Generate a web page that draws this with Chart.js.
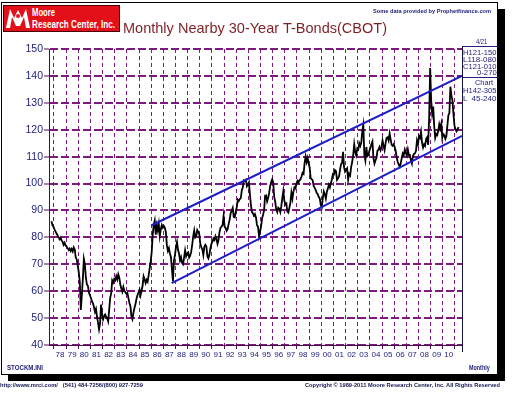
<!DOCTYPE html>
<html>
<head>
<meta charset="utf-8">
<script src="https://cdn.jsdelivr.net/npm/chart.js@4.4.1/dist/chart.umd.min.js"></script>
<style>
html, body { margin: 0; padding: 0; background: #fff; }
#wrap { position: relative; width: 520px; height: 394px; overflow: hidden; font-family: "Liberation Sans", Arial, sans-serif; }
#wrap canvas { position: absolute; left: 0; top: 0; }
.t { position: absolute; white-space: pre; line-height: 1; transform-origin: 0 0; }
.box { position: absolute; box-sizing: border-box; }
</style>
</head>
<body>
<div id="wrap">
  <canvas id="c" width="520" height="394"></canvas>
  <div class="box" style="left:1px;top:2px;width:497px;height:373px;border:1px solid #000;"></div>
  <div class="box" style="left:498px;top:9px;width:7px;height:372px;background:#000;"></div>
  <div class="box" style="left:8px;top:375px;width:497px;height:6px;background:#000;"></div>
  <div class="box" style="left:3px;top:5px;width:117px;height:27px;background:#e3101a;border:1px solid #4a0000;"></div>
  <svg style="position:absolute;left:5px;top:7px" width="26" height="23">
    <polygon fill="#fff" points="1,21 5,2 9,11 13,3 17,11 21,2 25,21 21,21 19,10 15,19 11,19 7,10 5,21"/>
    <circle cx="13" cy="9" r="2" fill="#e3101a"/>
  </svg>
  <div class="box" style="left:462px;top:46px;width:36px;height:1px;background:#22227a;"></div>
  <div class="box" style="left:462px;top:77px;width:36px;height:1px;background:#22227a;"></div>
  <div class="box" style="left:462px;top:46px;width:1px;height:306px;background:#14143c;"></div>
</div>
<script>
// Monthly Nearby 30-Year T-Bonds (CBOT), Oct 1977 - Apr 2011
const firstYear = 1977;
const firstMonth = 10;
const bondCloses = [
  86.0, 84.5, 84.0,                                                      // 1977
  83.0, 82.2, 81.4, 80.8, 80.0, 79.3, 79.9, 78.8, 78.4, 77.2, 78.0, 77.0, // 1978
  76.6, 76.0, 75.3, 75.8, 74.9, 75.7, 74.8, 76.3, 75.5, 72.5, 71.8, 69.5, // 1979
  67.0, 63.5, 53.0, 58.5, 64.5, 72.0, 70.0, 65.0, 62.5, 62.0, 59.5, 58.5, // 1980
  57.5, 56.2, 55.5, 54.0, 52.3, 53.4, 50.5, 48.3, 45.8, 48.0, 55.0, 51.5, // 1981
  49.5, 50.6, 51.3, 50.5, 50.0, 48.8, 53.0, 57.5, 59.2, 64.0, 63.2, 64.5, // 1982
  64.0, 65.6, 64.4, 66.3, 65.0, 62.5, 61.0, 59.8, 61.6, 60.2, 59.6, 59.0, // 1983
  59.4, 57.5, 55.6, 54.4, 50.6, 49.6, 52.0, 53.8, 55.2, 57.2, 58.6, 59.6, // 1984
  60.6, 58.5, 60.2, 62.0, 65.5, 64.4, 63.0, 64.2, 63.5, 66.0, 68.5, 71.0, // 1985
  74.5, 81.0, 84.5, 86.2, 81.0, 84.5, 82.6, 85.0, 80.5, 83.0, 84.6, 83.6, // 1986
  84.2, 83.5, 82.0, 77.0, 75.0, 76.0, 74.0, 72.6, 68.2, 63.6, 71.5, 73.4, // 1987
  76.5, 78.3, 75.4, 74.0, 71.4, 72.6, 70.5, 70.0, 72.6, 75.2, 73.0, 74.0, // 1988
  74.4, 72.5, 73.2, 74.6, 77.2, 80.5, 82.6, 80.0, 80.5, 82.7, 82.0, 81.2, // 1989
  77.6, 76.4, 75.6, 73.4, 76.5, 77.2, 76.6, 73.0, 72.2, 73.6, 76.0, 77.6, // 1990
  78.4, 79.6, 79.0, 80.4, 79.4, 77.6, 79.0, 82.0, 83.6, 84.0, 84.6, 88.0, // 1991
  84.0, 83.5, 82.4, 83.0, 85.0, 86.6, 89.0, 90.0, 91.0, 87.6, 87.4, 89.6, // 1992
  91.2, 94.0, 93.5, 94.2, 94.6, 97.5, 98.6, 101.2, 101.0, 101.4, 99.0, 99.6, // 1993
  100.4, 96.0, 92.0, 89.4, 89.0, 88.0, 88.6, 87.4, 84.5, 84.0, 80.4, 82.2, // 1994
  84.0, 87.0, 88.4, 90.0, 95.5, 95.6, 93.4, 94.6, 96.5, 99.0, 100.6, 101.6, // 1995
  100.4, 95.0, 93.2, 90.4, 89.4, 91.0, 90.6, 89.4, 91.6, 94.6, 97.2, 93.6, // 1996
  92.2, 92.6, 89.6, 89.2, 91.0, 93.0, 96.6, 94.4, 97.0, 98.6, 98.2, 100.0, // 1997
  101.0, 100.4, 101.2, 101.6, 102.6, 104.0, 103.6, 107.6, 110.0, 108.0, 109.5, 107.4, // 1998
  106.0, 102.0, 101.6, 101.2, 99.0, 98.4, 97.6, 96.5, 96.0, 95.0, 94.4, 92.0, // 1999
  91.2, 94.6, 97.0, 96.0, 94.4, 97.0, 98.2, 99.6, 98.6, 100.2, 101.6, 103.6, // 2000
  103.4, 105.0, 104.6, 101.4, 102.0, 102.6, 105.0, 107.2, 107.6, 111.8, 106.0, 104.4, // 2001
  105.0, 105.6, 101.4, 103.6, 103.0, 106.2, 108.0, 110.6, 114.6, 111.6, 110.4, 113.0, // 2002
  112.6, 115.0, 114.0, 115.2, 119.6, 121.8, 110.6, 108.6, 113.6, 110.2, 110.6, 112.2, // 2003
  113.2, 114.6, 115.6, 109.4, 107.4, 108.6, 109.6, 112.2, 112.6, 113.6, 112.4, 113.6, // 2004
  116.0, 114.0, 112.4, 115.0, 117.0, 117.2, 116.0, 118.6, 116.4, 114.4, 114.0, 114.6, // 2005
  113.6, 112.0, 109.6, 108.0, 107.0, 106.2, 107.6, 109.6, 111.2, 110.6, 112.6, 111.4, // 2006
  110.4, 112.6, 110.6, 110.6, 108.6, 107.4, 110.2, 111.0, 111.2, 112.2, 116.0, 114.6, // 2007
  117.6, 117.0, 119.2, 115.0, 113.4, 114.6, 114.0, 116.6, 117.2, 114.4, 124.0, 142.9, // 2008
  131.0, 126.0, 128.6, 121.4, 117.0, 118.4, 118.0, 119.6, 122.0, 120.4, 122.2, 117.0, // 2009
  118.4, 118.0, 116.6, 117.6, 121.4, 125.4, 126.2, 136.0, 132.6, 131.0, 126.0, 121.6, // 2010
  120.2, 119.4, 120.0, 121.0                                             // 2011
];
// trend channel drawn on the chart (year, price)
const upperChannel = [{ x: 1986.04, y: 84.5 }, { x: 2011.58, y: 140.0 }];
const lowerChannel = [{ x: 1987.69, y: 63.0 }, { x: 2011.58, y: 117.7 }];
const xRange = [1977.59, 2011.58];
const yRange = [40, 150];
const firstLabelYear = 1978;
const lastLabelYear = 2010;

const bondPoints = bondCloses.map((v, i) => ({ x: firstYear + (firstMonth - 1 + i + 0.5) / 12, y: v }));

const navy = '#1c1c7a';
const gridPurple = '#7e1a7e';
const axisPurple = '#4e0c4e';

new Chart(document.getElementById('c'), {
  type: 'line',
  data: {
    datasets: [
      { label: 'upper', data: upperChannel, borderColor: '#1e1ec8', borderWidth: 2, pointRadius: 0, order: 0 },
      { label: 'lower', data: lowerChannel, borderColor: '#1e1ec8', borderWidth: 2, pointRadius: 0, order: 0 },
      { label: 'T-Bonds', data: bondPoints, borderColor: '#000', borderWidth: 1.8, pointRadius: 0, tension: 0, order: 1 }
    ]
  },
  options: {
    responsive: false,
    animation: false,
    devicePixelRatio: 1,
    layout: { padding: { left: 10, right: 58, top: 49, bottom: 29 } },
    plugins: { legend: { display: false }, tooltip: { enabled: false } },
    scales: {
      x: {
        type: 'linear',
        min: xRange[0],
        max: xRange[1],
        afterFit: s => { s.height = 20; },
        grid: { color: gridPurple, lineWidth: 1, tickLength: 4, tickColor: axisPurple, tickBorderDash: [] },
        border: { display: true, color: axisPurple, width: 1, dash: [4, 3] },
        ticks: {
          stepSize: 1, includeBounds: false, autoSkip: false, maxRotation: 0, minRotation: 0,
          labelOffset: 6, padding: 1, color: navy,
          font: { family: 'Liberation Sans', size: 8 },
          callback: v => (v >= firstLabelYear && v <= lastLabelYear) ? String(v % 100).padStart(2, '0') : ''
        }
      },
      y: {
        min: yRange[0],
        max: yRange[1],
        afterFit: s => { s.width = 39; },
        grid: { color: gridPurple, lineWidth: 2, tickLength: 5, tickColor: axisPurple, tickWidth: 1, tickBorderDash: [] },
        border: { display: true, color: axisPurple, width: 1, dash: [8, 3] },
        ticks: { stepSize: 10, padding: 1, color: navy, font: { family: 'Liberation Sans', size: 10.5 } }
      }
    }
  }
});

// text around the plot: [text, left, baseline, size, bold, color, width]
const notes = [
  ['Moore', 31.7, 17, 11.5, true, '#fff', 23],
  ['Research Center, Inc.', 31.7, 28.3, 11.5, true, '#fff', 83],
  ['Monthly Nearby 30-Year T-Bonds(CBOT)', 123, 33.3, 14.6, false, '#7d1f24', 264],
  ['Some data provided by Prophetfinance.com', 373, 13.5, 6, true, navy, 118],
  ['4/21', 476, 44.5, 7.5, false, navy, 11.3],
  ['H121-150', 463.3, 55, 7.5, false, navy, 33.4],
  ['L118-080', 463.3, 62.3, 7.5, false, navy, 33.4],
  ['C121-010', 463.3, 69.5, 7.5, false, navy, 33.4],
  ['0-270', 477, 75.7, 7.5, false, navy, 19.7],
  ['Chart', 475, 85, 7.5, false, navy, 18],
  ['H142-305', 463.3, 93.3, 7.5, false, navy, 33.4],
  ['L  45-240', 463.3, 101, 7.5, false, navy, 33.4],
  ['STOCKM.INI', 7.3, 370.2, 6.5, true, navy, 36],
  ['Monthly', 469.3, 370.5, 6.5, true, navy, 20.7],
  ['http://www.mrci.com/   (541) 484-7256/(800) 927-7259', 0, 386.7, 6, true, '#141450', 143],
  ['Copyright \u00a9 1989-2011 Moore Research Center, Inc. All Rights Reserved', 305, 386.7, 6, true, '#141450', 195]
];
const wrap = document.getElementById('wrap');
notes.forEach(([text, left, base, size, bold, color, w]) => {
  const d = document.createElement('div');
  d.className = 't';
  d.textContent = text;
  d.style.left = left + 'px';
  d.style.top = (base - 0.847 * size) + 'px';
  d.style.fontSize = size + 'px';
  d.style.fontWeight = bold ? 'bold' : 'normal';
  d.style.color = color;
  wrap.appendChild(d);
  const actual = d.getBoundingClientRect().width;
  d.style.transform = 'scaleX(' + (w / actual) + ')';
});
</script>
</body>
</html>
